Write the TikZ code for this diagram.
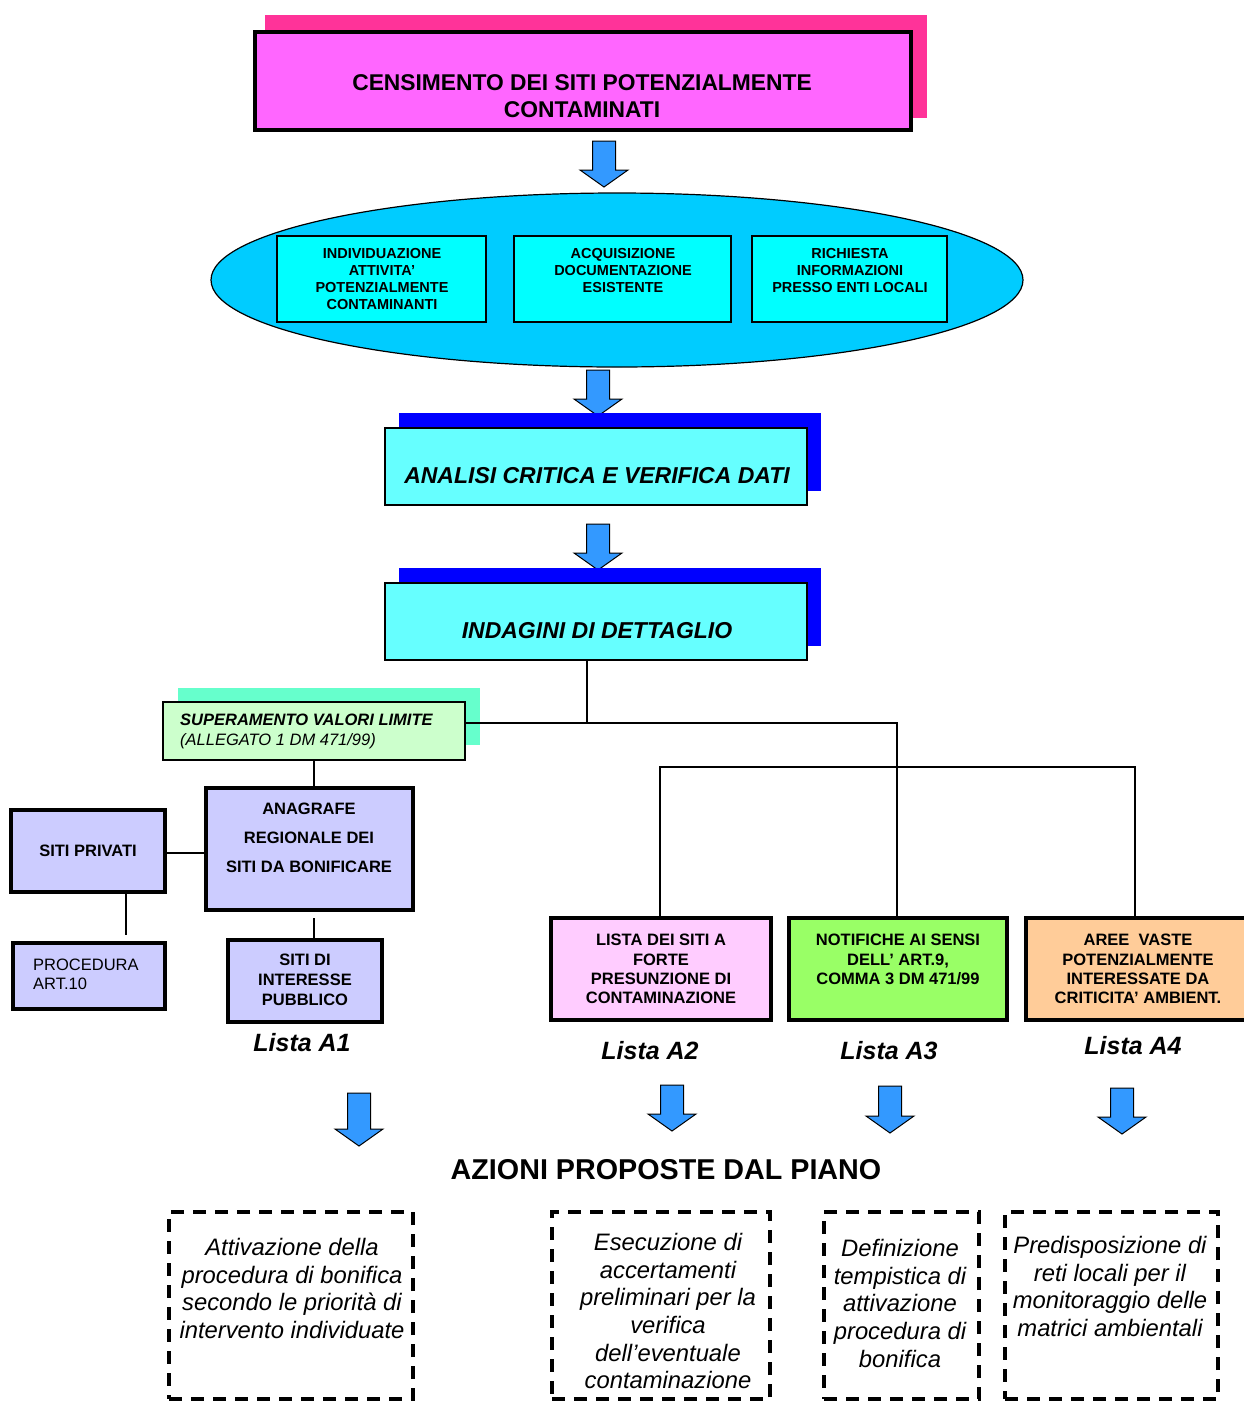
\documentclass[tikz,border=0pt]{standalone}
\usepackage{fontspec}
\setmainfont{Liberation Sans}
\usetikzlibrary{shapes.geometric}
\definecolor{pinkshadow}{HTML}{FF3399}
\definecolor{pinkmain}{HTML}{FF66FF}
\definecolor{ellcol}{HTML}{00CCFF}
\definecolor{innercol}{HTML}{00FFFF}
\definecolor{blueshadow}{HTML}{0000FF}
\definecolor{cyanbox}{HTML}{66FFFF}
\definecolor{arrowblue}{HTML}{3399FF}
\definecolor{greenshadow}{HTML}{66FFCC}
\definecolor{greenlight}{HTML}{CCFFCC}
\definecolor{lavender}{HTML}{CCCCFF}
\definecolor{pinklight}{HTML}{FFCCFF}
\definecolor{greenbox}{HTML}{99FF66}
\definecolor{orangebox}{HTML}{FFCC99}
\newcommand{\fsz}[2]{\fontsize{#1}{#2}\selectfont}
\begin{document}
\begin{tikzpicture}[x=1pt,y=-1pt,
  thinbox/.style={rectangle, draw=black, inner sep=0pt, line width=1.3pt},
  thickbox/.style={rectangle, draw=black, inner sep=0pt, line width=4.5pt},
  shadowbox/.style={rectangle, draw=none, inner sep=0pt},
  txt/.style={inner sep=0pt, align=center},
  conn/.style={draw=black, line width=1.3pt},
  dbox/.style={rectangle, draw=black, inner sep=0pt, line width=3.8pt, dash pattern=on 13pt off 9pt},
  pics/barrow/.style={code={\draw[fill=arrowblue, line width=1pt, line join=miter]
     (-11.5,0) -- (11.5,0) -- (11.5,#1-17) -- (24,#1-17) -- (0,#1) -- (-24,#1-17) -- (-11.5,#1-17) -- cycle;}}
]
\fill[white] (0,0) rectangle (1244,1401);
\useasboundingbox (0,0) rectangle (1244,1401);

% ---- top box
\node[shadowbox, fill=pinkshadow, minimum width=662pt, minimum height=103pt] (topsh) at (596,66.5) {};
\node[thickbox, fill=pinkmain, minimum width=656pt, minimum height=98pt] (top) at (583,81) {};
\node[txt, font=\bfseries\fsz{22.8}{27}] (toptxt) at (582,96.5) {CENSIMENTO DEI SITI POTENZIALMENTE\\CONTAMINATI};

\pic (ar1) at (604,141) {barrow=46};

% ---- ellipse
\node[ellipse, draw=black, line width=1.2pt, fill=ellcol, minimum width=812pt, minimum height=174pt, inner sep=0pt] (ell) at (617,280) {};
\node[thinbox, fill=innercol, minimum width=209pt, minimum height=86pt] (e1) at (381.5,279) {};
\node[thinbox, fill=innercol, minimum width=217pt, minimum height=86pt] (e2) at (622.5,279) {};
\node[thinbox, fill=innercol, minimum width=195pt, minimum height=86pt] (e3) at (849.5,279) {};
\node[txt, anchor=north, font=\bfseries\fsz{14.5}{17}] (e1t) at (382,248) {INDIVIDUAZIONE\\ATTIVITA’\\POTENZIALMENTE\\CONTAMINANTI};
\node[txt, anchor=north, font=\bfseries\fsz{14.5}{17}] (e2t) at (623,248) {ACQUISIZIONE\\DOCUMENTAZIONE\\ESISTENTE};
\node[txt, anchor=north, font=\bfseries\fsz{14.5}{17}] (e3t) at (850,248) {RICHIESTA\\INFORMAZIONI\\PRESSO ENTI LOCALI};

\pic (ar2) at (598,370) {barrow=46};

% ---- analisi
\node[shadowbox, fill=blueshadow, minimum width=422pt, minimum height=78pt] (ansh) at (610,452) {};
\node[thinbox, fill=cyanbox, minimum width=422pt, minimum height=77pt] (an) at (596,466.5) {};
\node[txt, font=\bfseries\itshape\fsz{23}{27}] (ant) at (597,476) {ANALISI CRITICA E VERIFICA DATI};

\pic (ar3) at (598,524) {barrow=46};

% ---- indagini
\node[shadowbox, fill=blueshadow, minimum width=422pt, minimum height=78pt] (insh) at (610,607) {};
\node[thinbox, fill=cyanbox, minimum width=422pt, minimum height=77pt] (ind) at (596,621.5) {};
\node[txt, font=\bfseries\itshape\fsz{23}{27}] (indt) at (597,631) {INDAGINI DI DETTAGLIO};

% ---- superamento
\node[shadowbox, fill=greenshadow, minimum width=302pt, minimum height=57pt] (supsh) at (329,716.5) {};
\node[thinbox, fill=greenlight, minimum width=302pt, minimum height=58pt] (sup) at (314,731) {};
\node[inner sep=0pt, align=left, anchor=north west, font=\itshape\fsz{16.5}{20}] (supt) at (180,714)
  {{\bfseries SUPERAMENTO VALORI LIMITE}\\(ALLEGATO 1 DM 471/99)};

% ---- left group
\node[thickbox, fill=lavender, minimum width=207pt, minimum height=122pt] (anag) at (309.5,849) {};
\node[txt, font=\bfseries\fsz{16.5}{29}] (anagt) at (309,838) {ANAGRAFE\\REGIONALE DEI\\SITI DA BONIFICARE};
\node[thickbox, fill=lavender, minimum width=154pt, minimum height=82pt, font=\bfseries\fsz{16.5}{20}] (priv) at (88,851) {SITI PRIVATI};
\node[thickbox, fill=lavender, minimum width=152pt, minimum height=66pt] (proc) at (89,976) {};
\node[inner sep=0pt, align=left, anchor=north west, font=\fsz{16.5}{19}] (proct) at (33,959) {PROCEDURA\\ART.10};
\node[thickbox, fill=lavender, minimum width=154pt, minimum height=82pt] (pub) at (305,981) {};
\node[txt, font=\bfseries\fsz{16.5}{20}] (pubt) at (305,980) {SITI DI\\INTERESSE\\PUBBLICO};
\node[txt, font=\bfseries\itshape\fsz{25}{30}] (l1) at (302,1043) {Lista A1};

% ---- right group
\node[thickbox, fill=pinklight, minimum width=220pt, minimum height=102pt] (pk) at (661,969) {};
\node[txt, anchor=north, font=\bfseries\fsz{16.5}{19.3}] (pkt) at (661,934) {LISTA DEI SITI A\\FORTE\\PRESUNZIONE DI\\CONTAMINAZIONE};
\node[thickbox, fill=greenbox, minimum width=218pt, minimum height=102pt] (gr) at (898,969) {};
\node[txt, anchor=north, font=\bfseries\fsz{16.5}{19.3}] (grt) at (898,934) {NOTIFICHE AI SENSI\\DELL’ ART.9,\\COMMA 3 DM 471/99};
\node[thickbox, fill=orangebox, minimum width=226pt, minimum height=102pt] (or) at (1139,969) {};
\node[txt, anchor=north, font=\bfseries\fsz{16.5}{19.3}] (ort) at (1138,934) {AREE\ \ VASTE\\POTENZIALMENTE\\INTERESSATE DA\\CRITICITA’ AMBIENT.};
\node[txt, font=\bfseries\itshape\fsz{25}{30}] (l2) at (650,1051) {Lista A2};
\node[txt, font=\bfseries\itshape\fsz{25}{30}] (l3) at (889,1051) {Lista A3};
\node[txt, font=\bfseries\itshape\fsz{25}{30}] (l4) at (1133,1046) {Lista A4};

% ---- connectors
\coordinate (busA) at (897,723);
\coordinate (indfoot) at (587,723);
\coordinate (busB) at (897,767);
\coordinate (anagfoot) at (314,918);
\coordinate (privfoot) at (126,935);
\draw[conn] (ind.south -| indfoot) -- (indfoot);
\draw[conn] (sup.east |- busA) -- (busA) -- (busA |- gr.north);
\draw[conn] (660,918) |- (busB -| 660,0) -- (1135,767) -- (1135,918);
\draw[conn] (sup.south) -- (sup.south |- anag.north);
\draw[conn] (anagfoot) -- (anagfoot |- pub.north);
\draw[conn] (priv.east |- 0,853) -- (anag.west |- 0,853);
\draw[conn] (priv.south -| privfoot) -- (privfoot);

% ---- bottom arrows
\pic (ba1) at (359,1093) {barrow=53};
\pic (ba2) at (672,1085) {barrow=46};
\pic (ba3) at (890,1086) {barrow=47};
\pic (ba4) at (1122,1088) {barrow=46};

\node[txt, font=\bfseries\fsz{28.7}{32}] (az) at (666,1170) {AZIONI PROPOSTE DAL PIANO};

% ---- dashed boxes
\node[dbox, minimum width=244pt, minimum height=187pt] (d1) at (291,1305.5) {};
\node[dbox, minimum width=218pt, minimum height=187pt] (d2) at (661,1305.5) {};
\node[dbox, minimum width=155pt, minimum height=187pt] (d3) at (901.5,1305.5) {};
\node[dbox, minimum width=213pt, minimum height=187pt] (d4) at (1111.5,1305.5) {};
\node[txt, anchor=north, font=\itshape\fsz{23.8}{27.7}] (d1t) at (292,1238) {Attivazione della\\procedura di bonifica\\secondo le priorità di\\intervento individuate};
\node[txt, anchor=north, font=\itshape\fsz{23.8}{27.7}] (d2t) at (668,1233) {Esecuzione di\\accertamenti\\preliminari per la\\verifica\\dell’eventuale\\contaminazione};
\node[txt, anchor=north, font=\itshape\fsz{23.8}{27.7}] (d3t) at (900,1239) {Definizione\\tempistica di\\attivazione\\procedura di\\bonifica};
\node[txt, anchor=north, font=\itshape\fsz{23.8}{27.7}] (d4t) at (1110,1236) {Predisposizione di\\reti locali per il\\monitoraggio delle\\matrici ambientali};
\end{tikzpicture}
\end{document}
